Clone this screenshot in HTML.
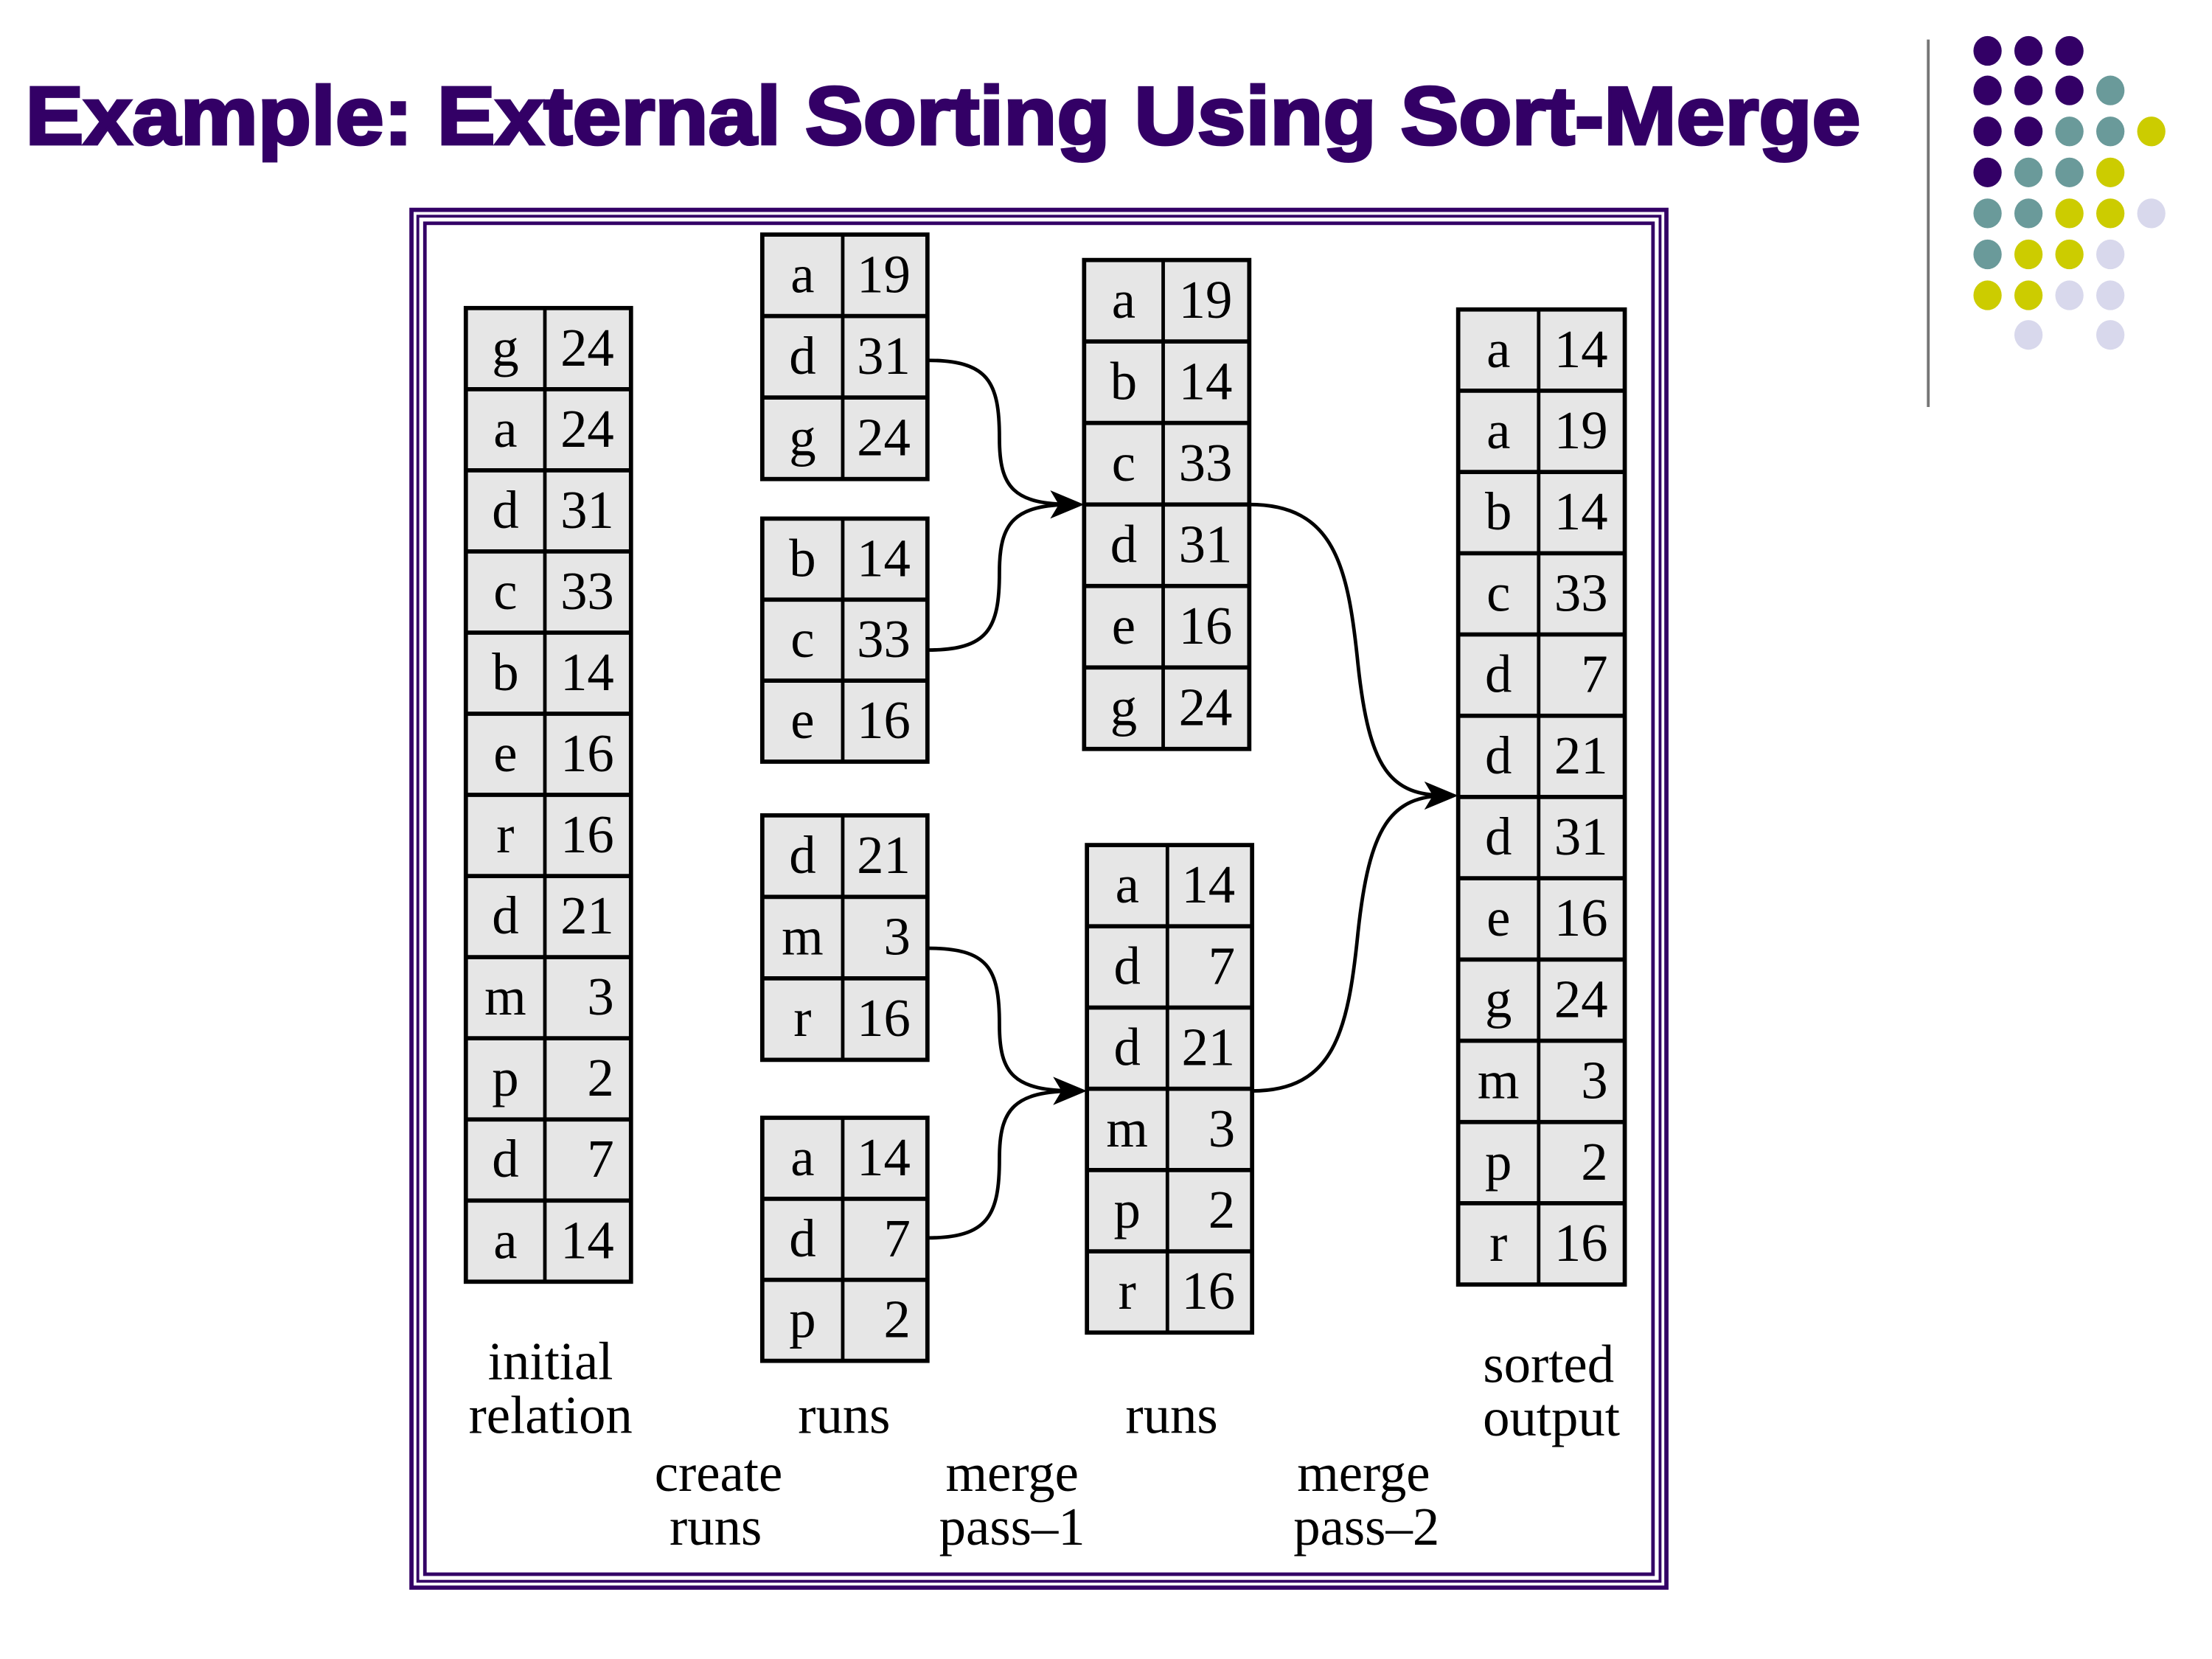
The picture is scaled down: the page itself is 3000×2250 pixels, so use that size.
<!DOCTYPE html>
<html><head><meta charset="utf-8"><style>html,body{margin:0;padding:0;background:#fff}svg{display:block}</style></head><body>
<svg width="3000" height="2250" viewBox="0 0 1567 1174" preserveAspectRatio="none" xmlns="http://www.w3.org/2000/svg">
<rect width="1567" height="1174" fill="#fff"/>
<text x="18" y="102" font-family="Liberation Sans, sans-serif" font-weight="bold" font-size="58" fill="#330066" stroke="#330066" stroke-width="2" textLength="1300" lengthAdjust="spacingAndGlyphs">Example: External Sorting Using Sort-Merge</text>
<line x1="1366" y1="28" x2="1366" y2="288" stroke="#777" stroke-width="2"/>
<g id="dots"></g>
<rect x="291.5" y="148.5" width="889" height="975" fill="none" stroke="#330066" stroke-width="3"/>
<rect x="296" y="153" width="880" height="966" fill="none" stroke="#330066" stroke-width="2"/>
<rect x="301" y="158" width="870" height="956" fill="none" stroke="#330066" stroke-width="2.5"/>
<g id="tables" font-family="Liberation Serif, serif" font-size="38"></g>
<g fill="none" stroke="#000" stroke-width="2.5">
<path d="M657,255 C700,255 708,270 708,310 C708,345 718,357 760,357"/>
<path d="M657,460 C700,460 708,445 708,405 C708,370 718,357 760,357"/>
<path d="M657,671 C700,671 708,685 708,725 C708,760 718,772 762,772"/>
<path d="M657,876 C700,876 708,860 708,820 C708,785 718,772 762,772"/>
<path d="M885,357 C945,357 955,400 962,470 C970,545 985,563 1025,563"/>
<path d="M887,772 C945,772 955,730 962,660 C970,585 985,563 1025,563"/>
</g>
<g fill="#000">
<path d="M768,357 L744,347 L750,357 L744,367 Z"/>
<path d="M770,772 L746,762 L752,772 L746,782 Z"/>
<path d="M1033,563 L1009,553 L1015,563 L1009,573 Z"/>
</g>
<g font-family="Liberation Serif, serif" font-size="38" text-anchor="middle" fill="#000">
<text x="390" y="976">initial</text><text x="390" y="1014">relation</text>
<text x="598" y="1014">runs</text><text x="830" y="1014">runs</text>
<text x="1097" y="978">sorted</text><text x="1099" y="1016">output</text>
<text x="509" y="1055">create</text><text x="507" y="1093">runs</text>
<text x="717" y="1055">merge</text><text x="717" y="1093">pass–1</text>
<text x="966" y="1055">merge</text><text x="968" y="1093">pass–2</text>
</g>
</svg>
<script>
const NS="http://www.w3.org/2000/svg";
const P="#330066",T="#6a9a9a",Y="#cccc00",L="#d8d8ec";
const rows=[[P,P,P],[P,P,P,T],[P,P,T,T,Y],[P,T,T,Y],[T,T,Y,Y,L],[T,Y,Y,L],[Y,Y,L,L],[null,L,null,L]];
const ys=[36,64,93,122,151,180,209,237],xs=[1408,1437,1466,1495,1524];
const d=document.getElementById('dots');
rows.forEach((r,i)=>r.forEach((c,j)=>{if(!c)return;const e=document.createElementNS(NS,'ellipse');e.setAttribute('cx',xs[j]);e.setAttribute('cy',ys[i]);e.setAttribute('rx',10);e.setAttribute('ry',10.5);e.setAttribute('fill',c);d.appendChild(e);}));
const tg=document.getElementById('tables');
function table(x1,xs,x2,top,bot,data){
 const n=data.length,h=(bot-top)/n;
 const r=document.createElementNS(NS,'rect');r.setAttribute('x',x1);r.setAttribute('y',top);r.setAttribute('width',x2-x1);r.setAttribute('height',bot-top);r.setAttribute('fill','#e6e6e6');r.setAttribute('stroke','#000');r.setAttribute('stroke-width',3);tg.appendChild(r);
 const l=document.createElementNS(NS,'line');l.setAttribute('x1',xs);l.setAttribute('x2',xs);l.setAttribute('y1',top);l.setAttribute('y2',bot);l.setAttribute('stroke','#000');l.setAttribute('stroke-width',2.5);tg.appendChild(l);
 data.forEach((s,i)=>{
  const y=top+h*i;
  if(i>0){const k=document.createElementNS(NS,'line');k.setAttribute('x1',x1);k.setAttribute('x2',x2);k.setAttribute('y1',y);k.setAttribute('y2',y);k.setAttribute('stroke','#000');k.setAttribute('stroke-width',3);tg.appendChild(k);}
  const [a,b]=s.split(' ');
  const t1=document.createElementNS(NS,'text');t1.setAttribute('x',(x1+xs)/2);t1.setAttribute('y',y+h/2+12);t1.setAttribute('text-anchor','middle');t1.textContent=a;tg.appendChild(t1);
  const t2=document.createElementNS(NS,'text');t2.setAttribute('x',x2-12);t2.setAttribute('y',y+h/2+12);t2.setAttribute('text-anchor','end');t2.textContent=b;tg.appendChild(t2);
 });
}
table(330,386,447,218,907,["g 24","a 24","d 31","c 33","b 14","e 16","r 16","d 21","m 3","p 2","d 7","a 14"]);
table(540,597,657,166,339,["a 19","d 31","g 24"]);
table(540,597,657,367,539,["b 14","c 33","e 16"]);
table(540,597,657,577,750,["d 21","m 3","r 16"]);
table(540,597,657,791,963,["a 14","d 7","p 2"]);
table(768,824,885,184,530,["a 19","b 14","c 33","d 31","e 16","g 24"]);
table(770,827,887,598,943,["a 14","d 7","d 21","m 3","p 2","r 16"]);
table(1033,1090,1151,219,909,["a 14","a 19","b 14","c 33","d 7","d 21","d 31","e 16","g 24","m 3","p 2","r 16"]);
</script>
</body></html>
